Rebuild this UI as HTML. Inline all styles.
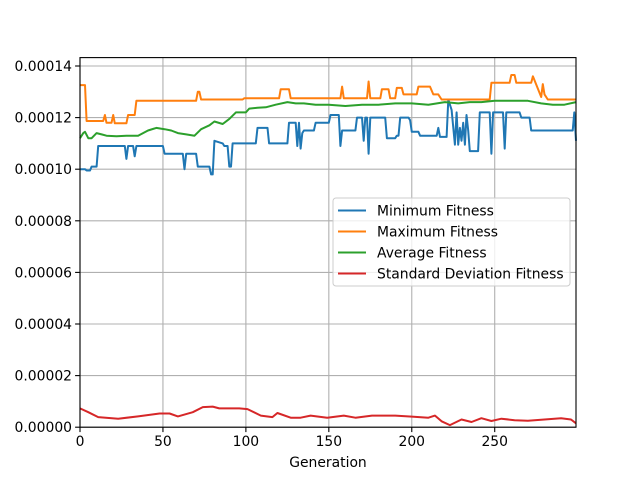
<!DOCTYPE html>
<html><head><meta charset="utf-8"><style>
body{margin:0;background:#fff;}
svg{display:block;font-family:"DejaVu Sans","Liberation Sans",sans-serif;}
</style></head><body>
<svg id="chart" width="640" height="480" viewBox="0 0 640 480"></svg>
<script>
const xTicks=[0,50,100,150,200,250];
const yTicks=[0,2,4,6,8,10,12,14];
const yTickLabels=["0.00000","0.00002","0.00004","0.00006","0.00008","0.00010","0.00012","0.00014"];
const seriesNames=["Minimum Fitness","Maximum Fitness","Average Fitness","Standard Deviation Fitness"];
const minGen=[0,3,4,6,7,10,11,12,27,28,29,30,32,33,34,35,50,51,62,63,64,70,71,78,79,80,81,86,87,89,90,91,92,106,107,113,114,125,126,130,131,132,133,134,135,141,142,150,151,155,156,157,158,166,167,170,171,172,173,174,175,184,185,190,191,192,193,198,199,200,204,205,215,216,217,221,222,224,226,227,228,229,230,231,232,233,234,235,240,241,247,248,249,255,256,257,265,266,271,272,297,298,299];
const minVal=[10.0,10.0,9.95,9.95,10.1,10.1,10.9,10.9,10.9,10.4,10.9,10.9,10.9,10.5,10.9,10.9,10.9,10.6,10.6,10.0,10.6,10.6,10.1,10.1,9.8,9.8,11.1,11.0,10.9,10.9,10.1,10.1,11.0,11.0,11.6,11.6,11.0,11.0,11.8,11.8,10.9,11.8,10.8,11.4,11.5,11.5,11.8,11.8,12.1,12.1,12.1,10.9,11.5,11.5,12.0,12.0,11.1,12.0,12.0,10.6,12.0,12.0,11.2,11.2,11.3,11.3,12.0,12.0,11.9,11.45,11.45,11.3,11.3,11.6,11.25,11.25,12.7,12.3,10.95,12.2,10.95,11.6,11.1,11.8,10.95,12.1,11.5,10.7,10.7,12.2,12.2,10.6,12.2,12.2,10.8,12.2,12.2,12.0,12.0,11.5,11.5,12.2,11.1];
const maxGen=[0,3,4,14,15,16,19,20,21,28,29,33,34,70,71,72,73,98,99,120,121,126,127,157,158,159,173,174,175,181,182,186,187,190,191,194,195,203,204,211,213,216,218,247,248,259,260,262,263,272,273,278,279,280,282,299];
const maxVal=[13.26,13.26,11.87,11.87,12.1,11.8,11.8,12.1,11.78,11.78,12.1,12.1,12.65,12.65,13.0,13.0,12.7,12.7,12.75,12.75,13.1,13.1,12.75,12.75,13.2,12.75,12.75,13.4,12.75,12.75,13.1,13.1,12.75,12.75,13.15,13.15,12.9,12.9,13.2,13.2,12.9,12.9,12.7,12.7,13.35,13.35,13.65,13.65,13.35,13.35,13.6,12.8,13.3,12.9,12.7,12.7];
const avgGen=[0,2,3,5,7,10,13,16,22,28,35,41,46,51,55,59,64,69,73,78,81,86,90,94,100,102,107,112,118,125,130,135,142,150,160,170,180,190,200,210,220,228,235,242,250,260,270,278,285,292,299];
const avgVal=[11.2,11.4,11.45,11.2,11.2,11.4,11.35,11.3,11.28,11.3,11.3,11.5,11.6,11.55,11.5,11.4,11.35,11.3,11.55,11.7,11.85,11.75,11.95,12.2,12.2,12.35,12.38,12.4,12.5,12.6,12.55,12.55,12.5,12.5,12.45,12.5,12.5,12.55,12.55,12.5,12.6,12.55,12.6,12.6,12.65,12.65,12.65,12.55,12.5,12.5,12.6];
const stdGen=[0,5,11,23,35,48,54,59,68,74,80,84,96,101,109,116,119,127,133,139,149,159,166,176,190,200,210,214,218,223,230,236,242,248,254,262,270,280,290,296,299];
const stdVal=[0.73,0.58,0.39,0.33,0.42,0.53,0.53,0.42,0.58,0.78,0.8,0.73,0.73,0.7,0.45,0.39,0.55,0.37,0.37,0.45,0.37,0.45,0.37,0.45,0.45,0.41,0.37,0.45,0.23,0.08,0.3,0.2,0.35,0.24,0.33,0.27,0.25,0.3,0.35,0.3,0.15];
const colors=["#1f77b4","#ff7f0e","#2ca02c","#d62728"];

const L=80,R=576,T=57.6,B=427.2,XMAX=299;
const xs=g=>L+(g/XMAX)*(R-L);
const ysc=v=>B-v*((B-66)/14);
const svg=document.getElementById('chart');
const NS='http://www.w3.org/2000/svg';
function mk(tag,attrs,parent){const e=document.createElementNS(NS,tag);for(const k in attrs)e.setAttribute(k,attrs[k]);(parent||svg).appendChild(e);return e;}

const grid=mk('g',{});


xTicks.forEach(t=>{const l=mk('line',{x1:xs(t),x2:xs(t),y1:T,y2:B,stroke:'#b0b0b0','stroke-width':1.1},grid);

});
yTicks.forEach(t=>{const l=mk('line',{x1:L,x2:R,y1:ysc(t),y2:ysc(t),stroke:'#b0b0b0','stroke-width':1.1},grid);

});

const data=[[minGen,minVal],[maxGen,maxVal],[avgGen,avgVal],[stdGen,stdVal]];
const lineNames=['min-fitness-line','max-fitness-line','avg-fitness-line','std-fitness-line'];
data.forEach((d,i)=>{
  const pts=d[0].map((g,j)=>xs(g).toFixed(1)+','+ysc(d[1][j]).toFixed(1)).join(' ');
  const p=mk('polyline',{points:pts,fill:'none',stroke:colors[i],'stroke-width':2,'stroke-linejoin':'round'});
  
  
});

const frame=mk('rect',{x:L,y:T,width:R-L,height:B-T,fill:'none',stroke:'#000','stroke-width':1.1});



xTicks.forEach(t=>{
  mk('line',{x1:xs(t),x2:xs(t),y1:B,y2:B+4.9,stroke:'#000','stroke-width':1.1});
  const tx=mk('text',{x:xs(t),y:B+19,'text-anchor':'middle','font-size':13.9,fill:'#000'});
  tx.textContent=t;
  
  
});
yTicks.forEach((t,i)=>{
  mk('line',{x1:L-4.9,x2:L,y1:ysc(t),y2:ysc(t),stroke:'#000','stroke-width':1.1});
  const tx=mk('text',{x:L-8,y:ysc(t)+5,'text-anchor':'end','font-size':13.9,fill:'#000'});
  tx.textContent=yTickLabels[i];
  
  
});
const xl=mk('text',{x:(L+R)/2,y:467,'text-anchor':'middle','font-size':13.9,fill:'#000'});
xl.textContent='Generation';



const lg=mk('g',{});


mk('rect',{x:333,y:198,width:237,height:88,rx:3,fill:'#fff','fill-opacity':0.8,stroke:'#ccc','stroke-width':1},lg);
seriesNames.forEach((n,i)=>{
  const y=210.5+i*21;
  const e=mk('g',{},lg);
  
  
  mk('line',{x1:338,x2:366,y1:y,y2:y,stroke:colors[i],'stroke-width':2},e);
  const t=mk('text',{x:377,y:y+5,'font-size':13.9,fill:'#000'},e);
  t.textContent=n;
});
</script>
</body></html>
